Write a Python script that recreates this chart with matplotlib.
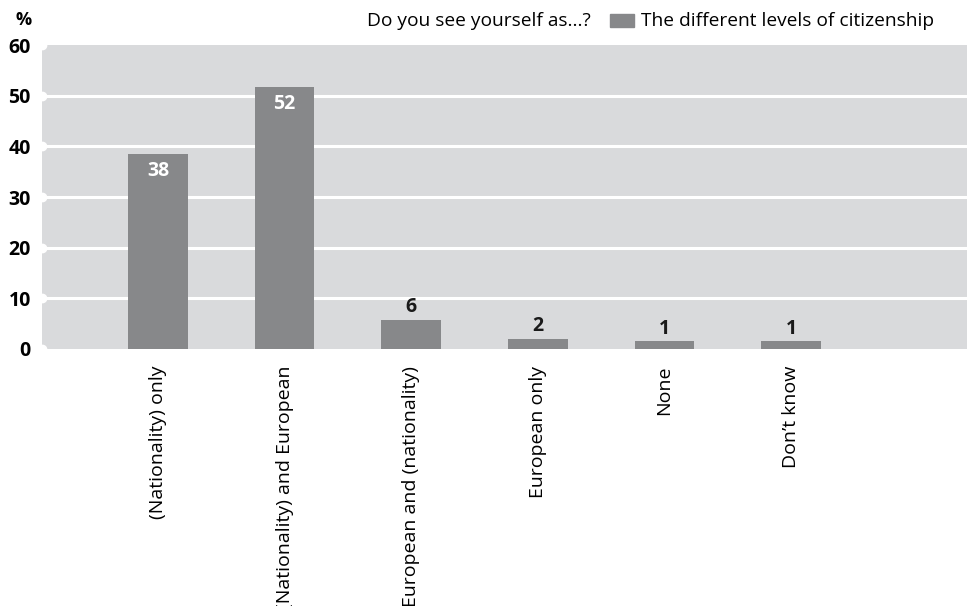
import matplotlib.pyplot as plt

categories = ["(Nationality) only", "(Nationality) and European",
              "European and (nationality)", "European only", "None", "Don\u2019t know"]
heights = [38.5, 51.7, 5.7, 2.0, 1.5, 1.5]
labels = [38, 52, 6, 2, 1, 1]
yticks = [0, 10, 20, 30, 40, 50, 60]

BAR = "#87888a"
BG = "#d9dadc"

plt.rcParams['font.family'] = ['Open Sans', 'DejaVu Sans']


def main():
    fig = plt.figure(figsize=(9.69, 6.06), dpi=100)
    ax = fig.add_axes([0.0433, 0.4241, 0.9547, 0.5016])
    ax.set_facecolor(BG)
    for s in ax.spines.values():
        s.set_visible(False)

    x = list(range(len(categories)))
    ax.bar(x, heights, width=0.47, color=BAR, zorder=3)

    ax.set_xlim(-0.916, 6.39)
    ax.set_ylim(0, 60)
    ax.set_yticks(yticks)
    ax.set_yticklabels([str(t) for t in yticks], fontsize=14, fontweight='bold')
    ax.tick_params(axis='y', length=0, pad=8)
    ax.tick_params(axis='x', length=0, pad=12)
    ax.set_xticks(x)
    ax.set_xticklabels(categories, rotation=90, fontsize=14, va='top', ha='center')

    # white gridlines with the little round notch on the left
    for t in yticks[1:-1]:
        ax.axhline(t, color='white', lw=2.2, zorder=2)
    ax.plot([-0.916] * len(yticks), yticks, 'o', color='white', ms=6,
            clip_on=False, zorder=4)

    # value labels
    for xi, h, lab in zip(x, heights, labels):
        if h > 20:
            ax.annotate(str(lab), (xi, h), xytext=(0, -5), textcoords='offset points',
                        ha='center', va='top', color='white', fontsize=14,
                        fontweight='bold', zorder=5)
        else:
            ax.annotate(str(lab), (xi, h), xytext=(0, 2), textcoords='offset points',
                        ha='center', va='bottom', color='#1a1a1a', fontsize=14,
                        fontweight='bold', zorder=5)

    fig.text(0.033, 0.967, "%", fontsize=13, fontweight='bold', ha='right', va='center')

    # legend-like header
    fig.text(0.379, 0.966, "Do you see yourself as...?", fontsize=13.8, ha='left', va='center')
    fig.patches.append(plt.Rectangle((0.6295, 0.955), 0.0245, 0.022, color=BAR,
                                     transform=fig.transFigure, figure=fig))
    fig.text(0.661, 0.966, "The different levels of citizenship", fontsize=13.8,
             ha='left', va='center')

    fig.savefig('out.png', dpi=100)


if __name__ == '__main__':
    main()
